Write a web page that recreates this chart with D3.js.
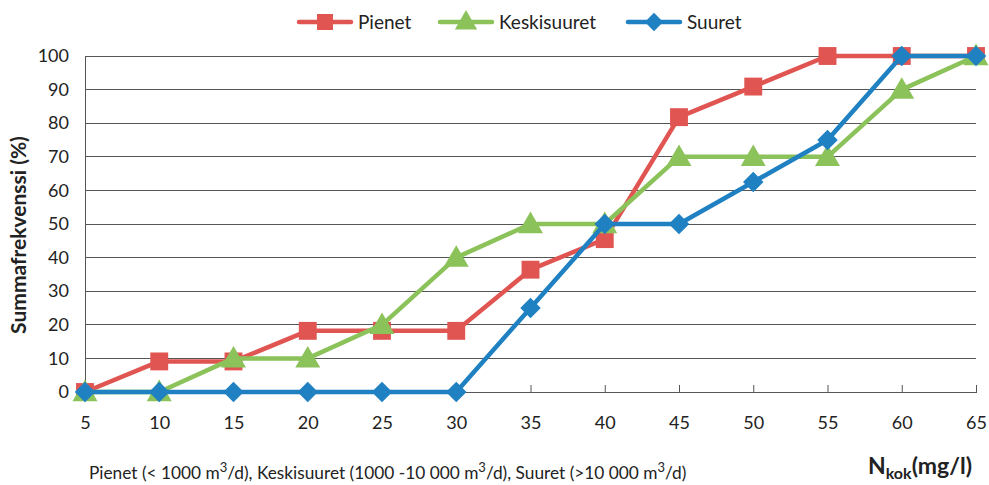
<!DOCTYPE html>
<html><head><meta charset="utf-8">
<script src="https://cdn.jsdelivr.net/npm/d3@7"></script>
<style>body{margin:0;background:#fff;}svg{display:block;font-family:Lato,"Open Sans",sans-serif;}</style>
</head><body><svg id="c" width="989" height="485"></svg>
<script>
const categories = [5,10,15,20,25,30,35,40,45,50,55,60,65];
const pienet = [0,9.1,9.1,18.2,18.2,18.2,36.4,45.5,81.8,90.9,100,100,100];
const keskisuuret = [0,0,10,10,20,40,50,50,70,70,70,90,100];
const suuret = [0,0,0,0,0,0,25,50,50,62.5,75,100,100];
const yTicks = [0,10,20,30,40,50,60,70,80,90,100];
const seriesNames = ["Pienet","Keskisuuret","Suuret"];

const colors = ["#E05552","#8BC25A","#1F80C2"];
const shapes = [d3.symbolSquare, d3.symbolTriangle, d3.symbolSquare];
const rot = [0, 0, 45];
const symSizes = [320, 270, 210];
const svg = d3.select("#c");
const L=85,R=976,T=56,B=392;
const x = d3.scalePoint().domain(categories).range([L,R]);
const y = d3.scaleLinear().domain([0,100]).range([B,T]);

// gridlines
svg.append("g").selectAll("line").data(yTicks.filter(d=>d>0)).join("line")
  .attr("x1",L).attr("x2",R).attr("y1",d=>y(d)).attr("y2",d=>y(d))
  .attr("stroke","#555").attr("stroke-width",1).attr("shape-rendering","crispEdges");
// y axis
const ya = svg.append("g").attr("transform",`translate(${L},0)`)
  .call(d3.axisLeft(y).tickValues(yTicks).tickSize(0).tickPadding(16));
ya.select(".domain").attr("stroke","#555").attr("shape-rendering","crispEdges");
ya.selectAll("text").attr("font-size",18).attr("fill","#222").attr("font-family","Lato");
// x axis
const xa = svg.append("g").attr("transform",`translate(0,${B})`)
  .call(d3.axisBottom(x).tickSize(-7).tickPadding(24).tickSizeOuter(0));
xa.select(".domain").attr("stroke","#555").attr("shape-rendering","crispEdges");
xa.selectAll(".tick line").attr("stroke","#555");
xa.selectAll("text").attr("font-size",18).attr("fill","#222").attr("font-family","Lato");

// series
const data = [pienet, keskisuuret, suuret];
data.forEach((vals,i)=>{
  const g = svg.append("g");
  g.append("path").datum(vals)
    .attr("d", d3.line().x((d,j)=>x(categories[j])).y(d=>y(d)))
    .attr("fill","none").attr("stroke",colors[i]).attr("stroke-width",4.5).attr("stroke-linejoin","round");
  g.selectAll("path.m").data(vals).join("path").attr("class","m")
    .attr("transform",(d,j)=>`translate(${x(categories[j])},${y(d)+(i===1?2:0)}) rotate(${rot[i]})`)
    .attr("d", d3.symbol().type(shapes[i]).size(symSizes[i]))
    .attr("fill",colors[i]);
});

// legend
const legX = [299, 440, 628];
seriesNames.forEach((n,i)=>{
  const g = svg.append("g").attr("transform",`translate(${legX[i]},22)`);
  g.append("line").attr("x1",0).attr("x2",52).attr("stroke",colors[i]).attr("stroke-width",4.5).attr("stroke-linecap","round");
  g.append("path").attr("transform",`translate(26,${i===1?1:0}) rotate(${rot[i]})`).attr("d",d3.symbol().type(shapes[i]).size(symSizes[i]*0.8)).attr("fill",colors[i]);
  g.append("text").attr("x",59).attr("y",6.5).attr("font-size",19).attr("fill","#222").text(n);
});

// y title
svg.append("text").attr("transform","translate(26,235) rotate(-90)").attr("text-anchor","middle")
  .attr("font-size",21).attr("font-weight","bold").attr("fill","#222").text("Summafrekvenssi (%)");

// bottom note
const note = svg.append("text").attr("x",89).attr("y",479).attr("font-size",17.3).attr("fill","#222");
note.append("tspan").text("Pienet (< 1000 m");
note.append("tspan").attr("dy",-7).attr("font-size",13).text("3");
note.append("tspan").attr("dy",7).text("/d), Keskisuuret (1000 -10 000 m");
note.append("tspan").attr("dy",-7).attr("font-size",13).text("3");
note.append("tspan").attr("dy",7).text("/d), Suuret (>10 000 m");
note.append("tspan").attr("dy",-7).attr("font-size",13).text("3");
note.append("tspan").attr("dy",7).text("/d)");

const nk = svg.append("text").attr("x",868).attr("y",474).attr("font-size",23).attr("font-weight","bold").attr("fill","#222");
nk.append("tspan").text("N");
nk.append("tspan").attr("dy",5).attr("font-size",16).text("kok");
nk.append("tspan").attr("dy",-5).text("(mg/l)");
</script></body></html>
